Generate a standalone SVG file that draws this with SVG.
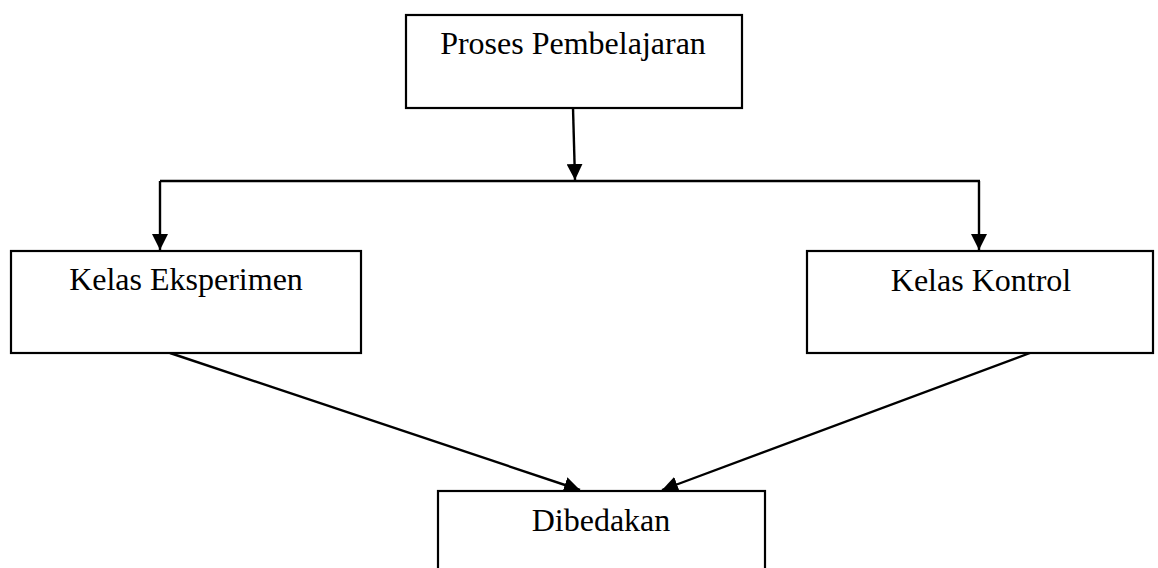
<svg xmlns="http://www.w3.org/2000/svg" width="1158" height="568" viewBox="0 0 1158 568">
  <style>
    .box { fill: #ffffff; stroke: #000000; stroke-width: 2.2; }
    .lbl { font-family: "Liberation Serif", "Times New Roman", serif; font-size: 32px; fill: #000000; text-anchor: middle; }
    .conn { fill: none; stroke: #000000; stroke-width: 2.4; }
  </style>
  <defs>
    <marker id="arr" markerUnits="userSpaceOnUse" markerWidth="16" markerHeight="16" viewBox="0 0 16 16" refX="16" refY="8" orient="auto">
      <path d="M0,0 L16,8 L0,16 Z" fill="#000000"/>
    </marker>
  </defs>
  <rect width="1158" height="568" fill="#ffffff"/>
  <g id="connectors">
    <line class="conn" x1="573" y1="108" x2="575" y2="180" marker-end="url(#arr)"/>
    <line class="conn" x1="160" y1="181" x2="980" y2="181"/>
    <line class="conn" x1="160" y1="181" x2="160" y2="250" marker-end="url(#arr)"/>
    <line class="conn" x1="979" y1="181" x2="979" y2="250" marker-end="url(#arr)"/>
    <line class="conn" x1="170" y1="353" x2="580" y2="490" marker-end="url(#arr)"/>
    <line class="conn" x1="1030" y1="353" x2="662" y2="490" marker-end="url(#arr)"/>
  </g>
  <g id="node-proses">
    <rect class="box" x="406" y="15" width="336" height="93"/>
    <text class="lbl" x="573" y="54">Proses Pembelajaran</text>
  </g>
  <g id="node-eksperimen">
    <rect class="box" x="11" y="251" width="350" height="102"/>
    <text class="lbl" x="186" y="290">Kelas Eksperimen</text>
  </g>
  <g id="node-kontrol">
    <rect class="box" x="807" y="251" width="346" height="102"/>
    <text class="lbl" x="981" y="291">Kelas Kontrol</text>
  </g>
  <g id="node-dibedakan">
    <rect class="box" x="438" y="491" width="327" height="90"/>
    <text class="lbl" x="601" y="531">Dibedakan</text>
  </g>
</svg>
